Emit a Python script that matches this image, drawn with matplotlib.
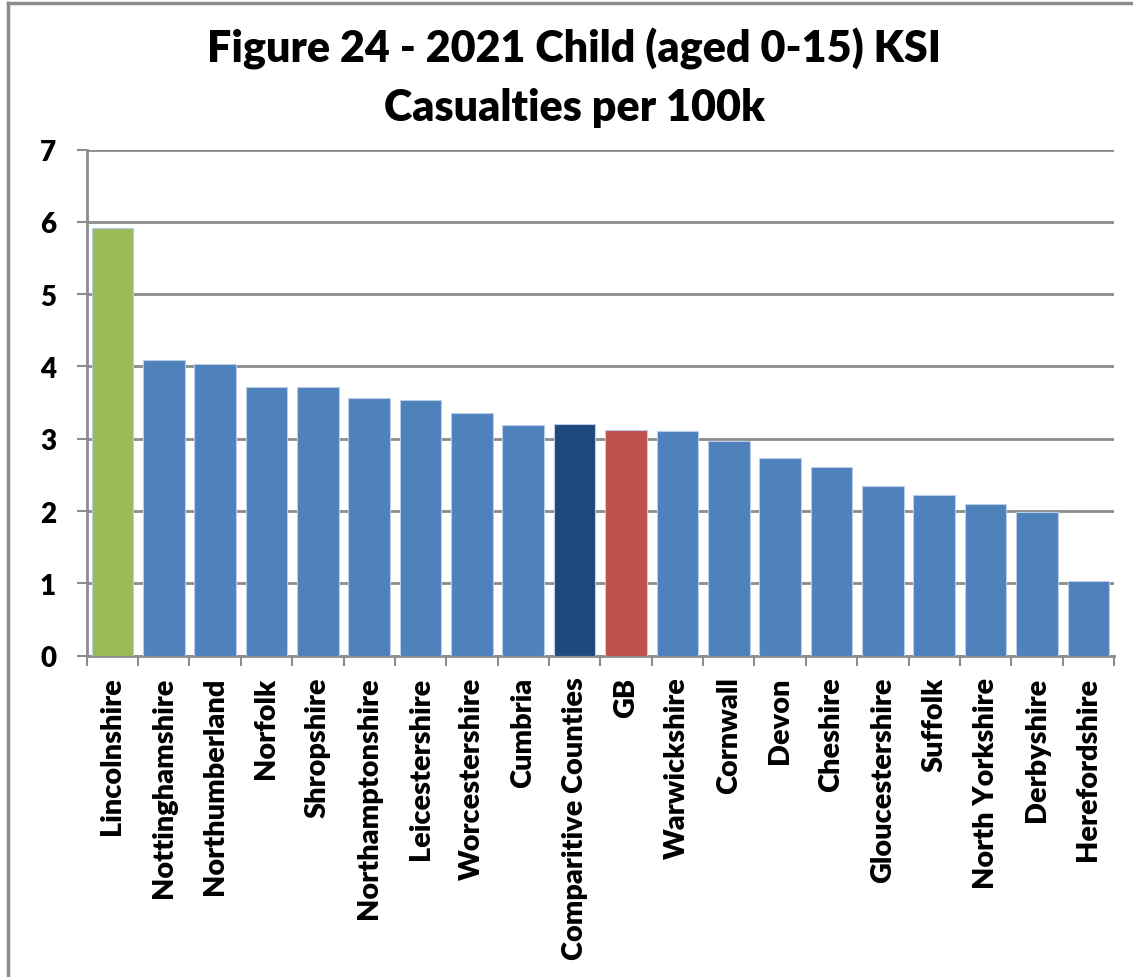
import numpy as np
import matplotlib
matplotlib.use('Agg')
import matplotlib.pyplot as plt
from matplotlib.lines import Line2D

# データ
counties = ['Lincolnshire', 'Nottinghamshire', 'Northumberland', 'Norfolk', 'Shropshire',
            'Northamptonshire', 'Leicestershire', 'Worcestershire', 'Cumbria',
            'Comparitive Counties', 'GB', 'Warwickshire', 'Cornwall', 'Devon', 'Cheshire',
            'Gloucestershire', 'Suffolk', 'North Yorkshire', 'Derbyshire', 'Herefordshire']
ksi_per_100k = [5.91, 4.09, 4.03, 3.72, 3.71, 3.57, 3.53, 3.35, 3.19, 3.20,
                3.12, 3.11, 2.97, 2.73, 2.61, 2.34, 2.22, 2.10, 1.99, 1.03]
bar_colors = ['#9BBB59'] + ['#4F81BD'] * 8 + ['#1F497D', '#C0504D'] + ['#4F81BD'] * 9

plt.rcParams['font.family'] = ['Lato', 'DejaVu Sans']
W, H = 1133, 978
fig = plt.figure(figsize=(W / 100, H / 100), dpi=100)
ax = fig.add_axes([86.7 / W, 1 - 656.7 / H, (1114 - 86.7) / W, (656.7 - 150.5) / H])

x = np.arange(len(counties))
ax.bar(x, ksi_per_100k, width=0.81, color=bar_colors, edgecolor='#B9CDE5', linewidth=0.8, zorder=3)

ax.set_xlim(-0.5, len(counties) - 0.5)
ax.set_ylim(0, 7)
ax.set_yticks(range(0, 8))
ax.yaxis.grid(True, color='#8C8C8C', linewidth=2, zorder=0)
ax.tick_params(axis='y', length=7, width=1.5, color='#8C8C8C', labelsize=20, pad=15)
for lab in ax.get_yticklabels():
    lab.set_fontweight('heavy')

# 区切りの目盛り
ax.set_xticks(x)
ax.set_xticklabels(counties, rotation=90, fontsize=20.8, fontweight='heavy', va='top')
ax.tick_params(axis='x', which='major', length=0, pad=15)
ax.set_xticks(np.arange(-0.5, len(counties)), minor=True)
ax.tick_params(axis='x', which='minor', length=7, width=1.5, color='#8C8C8C')

for s in ['top', 'right']:
    ax.spines[s].set_visible(False)
for s in ['left', 'bottom']:
    ax.spines[s].set_color('#8C8C8C')
    ax.spines[s].set_linewidth(2)

fig.text(0.507, 1 - 28 / H, 'Figure 24 - 2021 Child (aged 0-15) KSI\nCasualties per 100k',
         ha='center', va='top', fontsize=31, fontweight='heavy', linespacing=1.55)

# 枠線
fig.add_artist(Line2D([7.5 / W, 7.5 / W], [0, 1 - 3.5 / H], color='#8C8C8C', lw=2.5))
fig.add_artist(Line2D([7.5 / W, 1], [1 - 3.5 / H, 1 - 3.5 / H], color='#8C8C8C', lw=2.5))

plt.savefig('out.png', dpi=100)
